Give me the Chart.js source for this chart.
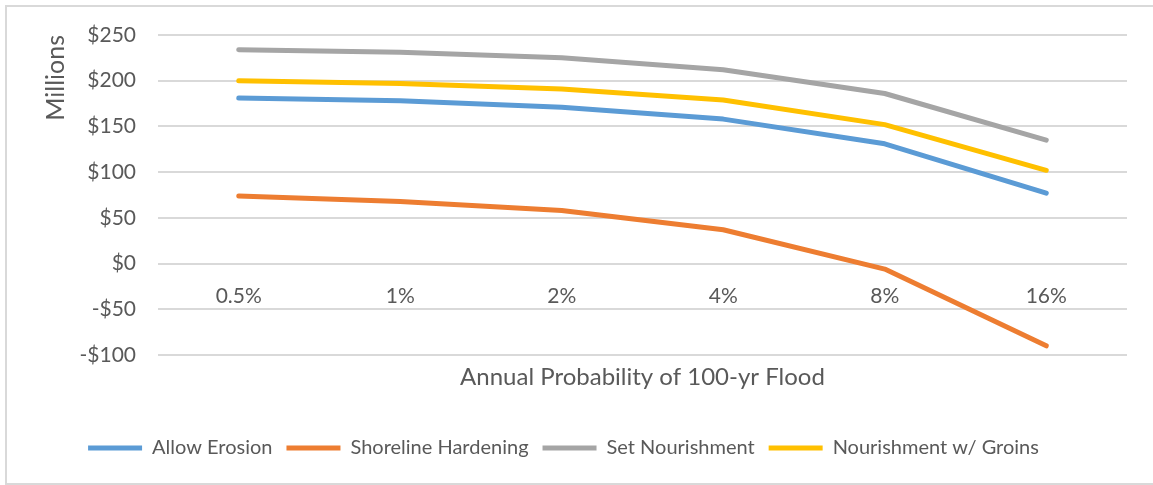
<!DOCTYPE html>
<html>
<head>
<meta charset="utf-8">
<script src="https://cdn.jsdelivr.net/npm/chart.js@4/dist/chart.umd.min.js"></script>
<style>
  html, body { margin: 0; padding: 0; background: #fff; overflow: hidden; }
  #wrap { position: relative; width: 1153px; height: 485px; }
  #frame { position: absolute; left: 5px; top: 5px; width: 1200px; height: 476px; border: 2px solid #d9d9d9; }
  canvas { position: absolute; left: 0; top: 0; }
</style>
</head>
<body>
<div id="wrap">
  <div id="frame"></div>
  <canvas id="c" width="1153" height="485"></canvas>
</div>
<script>
const categories = ['0.5%', '1%', '2%', '4%', '8%', '16%'];
const allowErosion = [181, 178, 171, 158, 131, 77];
const shorelineHardening = [74, 68, 58, 37, -6, -90];
const setNourishment = [234, 231, 225, 212, 186, 135];
const nourishmentGroins = [200, 197, 191, 179, 152, 102];
const seriesNames = ['Allow Erosion', 'Shoreline Hardening', 'Set Nourishment', 'Nourishment w/ Groins'];
const yTicks = [-100, -50, 0, 50, 100, 150, 200, 250];

const colors = ['#5B9BD5', '#ED7D31', '#A5A5A5', '#FFC000'];
const txt = '#595959';
const fam = "Lato, 'Open Sans', sans-serif";

function ds(label, data, color) {
  return {
    label, data,
    borderColor: color, backgroundColor: color,
    borderWidth: 5, pointRadius: 0, pointHoverRadius: 0,
    tension: 0, borderCapStyle: 'round', borderJoinStyle: 'round',
    xAxisID: 'x', yAxisID: 'y'
  };
}

new Chart(document.getElementById('c'), {
  type: 'line',
  data: {
    labels: categories,
    datasets: [
      ds(seriesNames[0], allowErosion, colors[0]),
      ds(seriesNames[1], shorelineHardening, colors[1]),
      ds(seriesNames[2], setNourishment, colors[2]),
      ds(seriesNames[3], nourishmentGroins, colors[3])
    ]
  },
  options: {
    responsive: false,
    animation: false,
    layout: { padding: { left: 0, right: 26, top: 35, bottom: 17 } },
    plugins: {
      tooltip: { enabled: false },
      legend: {
        position: 'bottom',
        labels: {
          usePointStyle: true,
          pointStyle: 'line',
          pointStyleWidth: 54,
          boxHeight: 20,
          padding: 14,
          color: txt,
          font: { family: fam, size: 20 }
        }
      }
    },
    scales: {
      x: {
        type: 'category',
        position: { y: 0 },
        offset: true,
        grid: { display: false, drawTicks: false },
        border: { display: false },
        ticks: { color: txt, font: { family: fam, size: 21 }, padding: 20, maxRotation: 0 }
      },
      x2: {
        type: 'category',
        position: 'bottom',
        labels: categories,
        offset: true,
        grid: { display: false, drawTicks: false },
        border: { display: false },
        ticks: { display: false },
        title: {
          display: true,
          text: 'Annual Probability of 100-yr Flood',
          color: txt,
          font: { family: fam, size: 24, lineHeight: 1 },
          padding: { top: 0, bottom: 35 }
        },
        afterFit: (s) => { s.height = 69; }
      },
      y: {
        min: -100, max: 250,
        afterBuildTicks: (s) => { s.ticks = yTicks.map(v => ({ value: v })); },
        grid: { color: '#d9d9d9', lineWidth: 2, drawTicks: false },
        border: { display: false },
        ticks: {
          color: txt, font: { family: fam, size: 21 }, padding: 22,
          callback: (v) => (v < 0 ? '-$' + Math.abs(v) : '$' + v)
        },
        title: {
          display: true, text: 'Millions', color: txt, align: 'end',
          font: { family: fam, size: 25, lineHeight: 1 },
          padding: { top: 43, bottom: 0 }
        },
        afterFit: (s) => { s.width = 158; }
      }
    }
  }
});
</script>
</body>
</html>
